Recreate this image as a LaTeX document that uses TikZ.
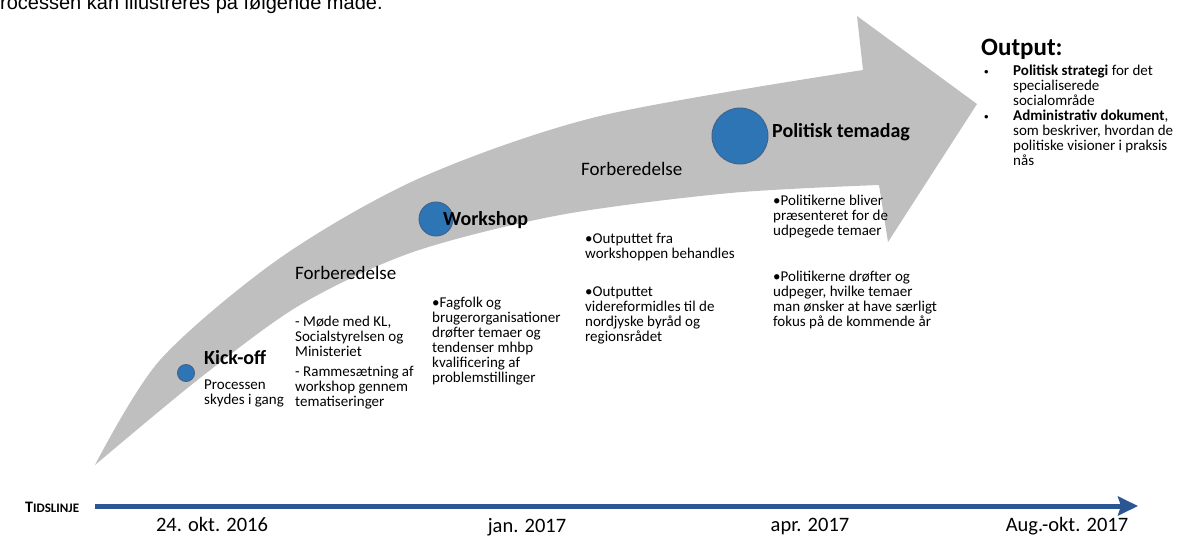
\documentclass[tikz,border=0pt]{standalone}
\usepackage{fontspec}
\setmainfont{Carlito}
\newfontfamily\arialfont{Liberation Sans}
\usetikzlibrary{arrows.meta}
\definecolor{arrowgray}{HTML}{BFBFBF}
\definecolor{dotblue}{HTML}{2E75B6}
\definecolor{dotedge}{HTML}{41618A}
\definecolor{lineblue}{HTML}{2C5594}
\newcommand{\fsz}[2]{\fontsize{#1}{#2}\selectfont}
\begin{document}
\begin{tikzpicture}[x=1pt,y=-1pt,
  txt/.style={anchor=north west,inner sep=0pt,align=left,font=\fsz{15}{15}},
  headlbl/.style={anchor=west,inner sep=0pt,font=\bfseries\fsz{20}{24}},
  phase/.style={anchor=west,inner sep=0pt,font=\fsz{19}{23}},
  dot/.style={circle,fill=dotblue,draw=dotedge,line width=0.9pt,inner sep=0pt,minimum size=#1},
  datelbl/.style={anchor=base,inner sep=0pt,font=\fsz{20.5}{24}},
  bul/.style={anchor=west,inner sep=0pt,font=\arialfont\fsz{13}{13}},
]
\useasboundingbox (0,0) rectangle (1185,536);

% intro line (clipped at top, as in the source)
\node[anchor=base west,inner sep=0pt,font=\arialfont\fsz{20}{24}] (intro) at (0,9) {rocessen kan illustreres på følgende måde.};

% big curved arrow
\fill[arrowgray] plot[smooth] coordinates {(95,465) (160,360) (280,258) (420,178) (600,116) (863,70)}
  -- (857,16) -- (977,104) -- (888,242) -- (879,185)
  -- plot[smooth] coordinates {(879,185) (730,193) (560,215) (413,252) (300,305) (200,378) (95,465)} -- cycle;

% milestones
\node[dot=17pt] (kickdot) at (186,373) {};
\node[dot=34pt] (workdot) at (436,219) {};
\node[dot=56pt] (poldot) at (740,136) {};

\node[headlbl] (kick) at (204,358) {Kick-off};
\node[headlbl] (work) at (443,220) {Workshop};
\node[headlbl] (pol) at (772,132) {Politisk temadag};

\node[phase] (forb1) at (295,273) {Forberedelse};
\node[phase] (forb2) at (581,169) {Forberedelse};

\node[txt] (proc) at (204,380) {Processen\\skydes i gang};
\node[txt] (mode) at (295,316) {- Møde med KL,\\Socialstyrelsen og\\Ministeriet\\[5pt]- Rammesætning af\\workshop gennem\\tematiseringer};
\node[txt] (fag) at (432,297) {•Fagfolk og\\brugerorganisationer\\drøfter temaer og\\tendenser mhbp\\kvalificering af\\problemstillinger};
\node[txt] (outa) at (585,233) {•Outputtet fra\\workshoppen behandles};
\node[txt] (outb) at (585,287) {•Outputtet\\videreformidles til de\\nordjyske byråd og\\regionsrådet};
\node[txt] (pola) at (773,195) {•Politikerne bliver\\præsenteret for de\\udpegede temaer};
\node[txt] (polb) at (773,271) {•Politikerne drøfter og\\udpeger, hvilke temaer\\man ønsker at have særligt\\fokus på de kommende år};

% output
\node[anchor=west,inner sep=0pt,font=\bfseries\fsz{25}{30}] (outhead) at (981,49) {Output:};
\node[bul] (bul1) at (984,73) {•};
\node[bul] (bul2) at (984,118) {•};
\node[txt] (out1) at (1013,65) {\textbf{Politisk strategi} for det\\specialiserede\\socialområde};
\node[txt] (out2) at (1013,110) {\textbf{Administrativ dokument},\\som beskriver, hvordan de\\politiske visioner i praksis\\nås};

% timeline
\node[anchor=west,inner sep=0pt,font=\bfseries] (tlabel) at (25,507) {{\fsz{16}{16}T}{\fsz{13}{13}IDSLINJE}};
\coordinate (tlstart) at (95,506);
\coordinate (tlend) at (1138,506);
\draw[lineblue,line width=5pt,-{Stealth[length=20pt,width=19pt,inset=3pt]}] (tlstart) -- (tlend);

\node[datelbl] (d1) at (212,531) {24. okt. 2016};
\node[datelbl] (d2) at (527,532) {jan. 2017};
\node[datelbl] (d3) at (810,531) {apr. 2017};
\node[datelbl] (d4) at (1067,531) {Aug.-okt. 2017};
\end{tikzpicture}
\end{document}
